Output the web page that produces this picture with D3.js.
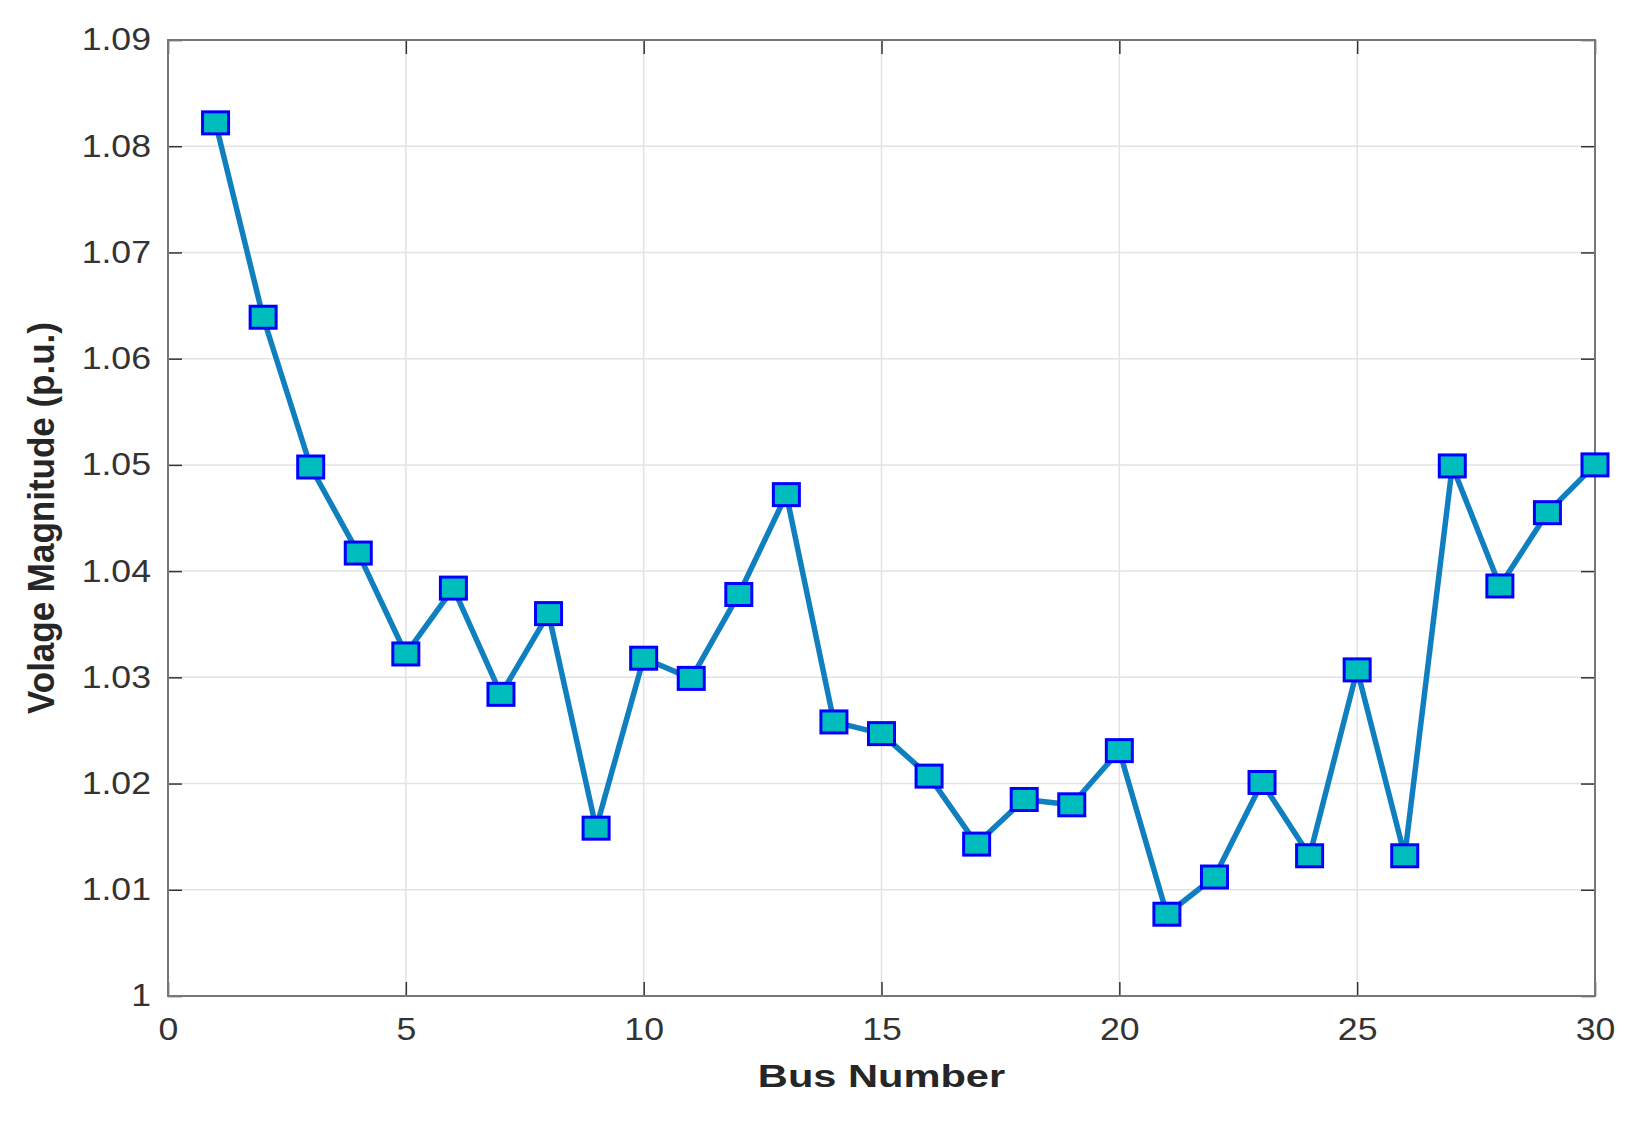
<!DOCTYPE html>
<html>
<head>
<meta charset="utf-8">
<script src="https://cdn.jsdelivr.net/npm/d3@7"></script>
<style>
  body { margin: 0; background: #fff; }
  text { font-family: "Liberation Sans", Arial, sans-serif; }
</style>
</head>
<body>
<script>
// bus voltages
let buses = d3.range(1, 31)
let volts = [
  1.0822, 1.0639, 1.0498, 1.0417, 1.0322, 1.0384, 1.0284, 1.0360, 1.0158, 1.0318,
  1.0299, 1.0378, 1.0472, 1.0258, 1.0247, 1.0207, 1.0143, 1.0185, 1.0180, 1.0231,
  1.0077, 1.0112, 1.0201, 1.0132, 1.0307, 1.0132, 1.0499, 1.0386, 1.0455, 1.0500
]
let xTicks = [0, 5, 10, 15, 20, 25, 30]
let yTicks = [1, 1.01, 1.02, 1.03, 1.04, 1.05, 1.06, 1.07, 1.08, 1.09]

let width = 1651, height = 1130
let pLeft = 168, pRight = 1595, pTop = 40, pBottom = 996
let stretch = 1.15

let svg = d3.select('body').append('svg')
  .attr('width', width).attr('height', height)

let x = d3.scaleLinear().domain([0, 30]).range([pLeft, pRight])
let y = d3.scaleLinear().domain([1, 1.09]).range([pBottom, pTop])

// grid
svg.append('g').selectAll('line').data(xTicks.slice(1, -1)).enter()
  .append('line')
  .attr('x1', d => x(d)).attr('x2', d => x(d))
  .attr('y1', pTop).attr('y2', pBottom)
  .attr('stroke', '#e3e3e3').attr('stroke-width', 1.5)
svg.append('g').selectAll('line').data(yTicks.slice(1, -1)).enter()
  .append('line')
  .attr('y1', d => y(d)).attr('y2', d => y(d))
  .attr('x1', pLeft).attr('x2', pRight)
  .attr('stroke', '#e3e3e3').attr('stroke-width', 1.5)

let widen = g => g.selectAll('text').each(function () {
  let t = d3.select(this)
  let tx = +t.attr('x') || 0
  t.attr('transform', `translate(${tx},0) scale(${stretch},1) translate(${-tx},0)`)
})

// axes (inward ticks, MATLAB box)
let yfmt = d => d === 1 ? '1' : d3.format('.2f')(d)
svg.append('g').attr('transform', `translate(${pLeft},0)`)
  .call(d3.axisLeft(y).tickValues(yTicks).tickFormat(yfmt).tickSizeInner(-14).tickSizeOuter(0).tickPadding(17))
  .call(g => g.select('.domain').remove())
  .call(g => g.selectAll('.tick line').attr('stroke', '#333').attr('stroke-width', 1.5))
  .call(g => g.selectAll('text').attr('font-size', 31).attr('fill', '#333'))
  .call(widen)
svg.append('g').attr('transform', `translate(${pRight},0)`)
  .call(d3.axisRight(y).tickValues(yTicks).tickFormat('').tickSizeInner(-14).tickSizeOuter(0))
  .call(g => g.select('.domain').remove())
  .call(g => g.selectAll('.tick line').attr('stroke', '#333').attr('stroke-width', 1.5))
svg.append('g').attr('transform', `translate(0,${pBottom})`)
  .call(d3.axisBottom(x).tickValues(xTicks).tickSizeInner(-14).tickSizeOuter(0).tickPadding(22))
  .call(g => g.select('.domain').remove())
  .call(g => g.selectAll('.tick line').attr('stroke', '#333').attr('stroke-width', 1.5))
  .call(g => g.selectAll('text').attr('font-size', 31).attr('fill', '#333'))
  .call(widen)
svg.append('g').attr('transform', `translate(0,${pTop})`)
  .call(d3.axisTop(x).tickValues(xTicks).tickFormat('').tickSizeInner(-14).tickSizeOuter(0))
  .call(g => g.select('.domain').remove())
  .call(g => g.selectAll('.tick line').attr('stroke', '#333').attr('stroke-width', 1.5))

svg.append('rect')
  .attr('x', pLeft).attr('y', pTop)
  .attr('width', pRight - pLeft).attr('height', pBottom - pTop)
  .attr('fill', 'none').attr('stroke', '#777').attr('stroke-width', 2)

// series
let pts = buses.map((b, i) => [b, volts[i]])
svg.append('path').datum(pts)
  .attr('fill', 'none').attr('stroke', '#0f7fbf').attr('stroke-width', 5.5)
  .attr('stroke-linejoin', 'round')
  .attr('d', d3.line().x(d => x(d[0])).y(d => y(d[1])))

let mw = 26, mh = 22
svg.append('g').selectAll('rect').data(pts).enter()
  .append('rect')
  .attr('x', d => x(d[0]) - mw / 2).attr('y', d => y(d[1]) - mh / 2)
  .attr('width', mw).attr('height', mh)
  .attr('fill', '#00bdbd').attr('stroke', '#0000ff').attr('stroke-width', 3)

// labels
svg.append('text')
  .attr('transform', `translate(${(pLeft + pRight) / 2},1087) scale(1.3,1)`)
  .attr('text-anchor', 'middle')
  .attr('font-size', 32).attr('font-weight', 'bold').attr('fill', '#262626')
  .text('Bus Number')
svg.append('text')
  .attr('transform', `translate(54,${(pTop + pBottom) / 2}) scale(1.08,1) rotate(-90)`)
  .attr('text-anchor', 'middle')
  .attr('font-size', 35).attr('font-weight', 'bold').attr('fill', '#262626')
  .text('Volage Magnitude (p.u.)')
</script>
</body>
</html>
